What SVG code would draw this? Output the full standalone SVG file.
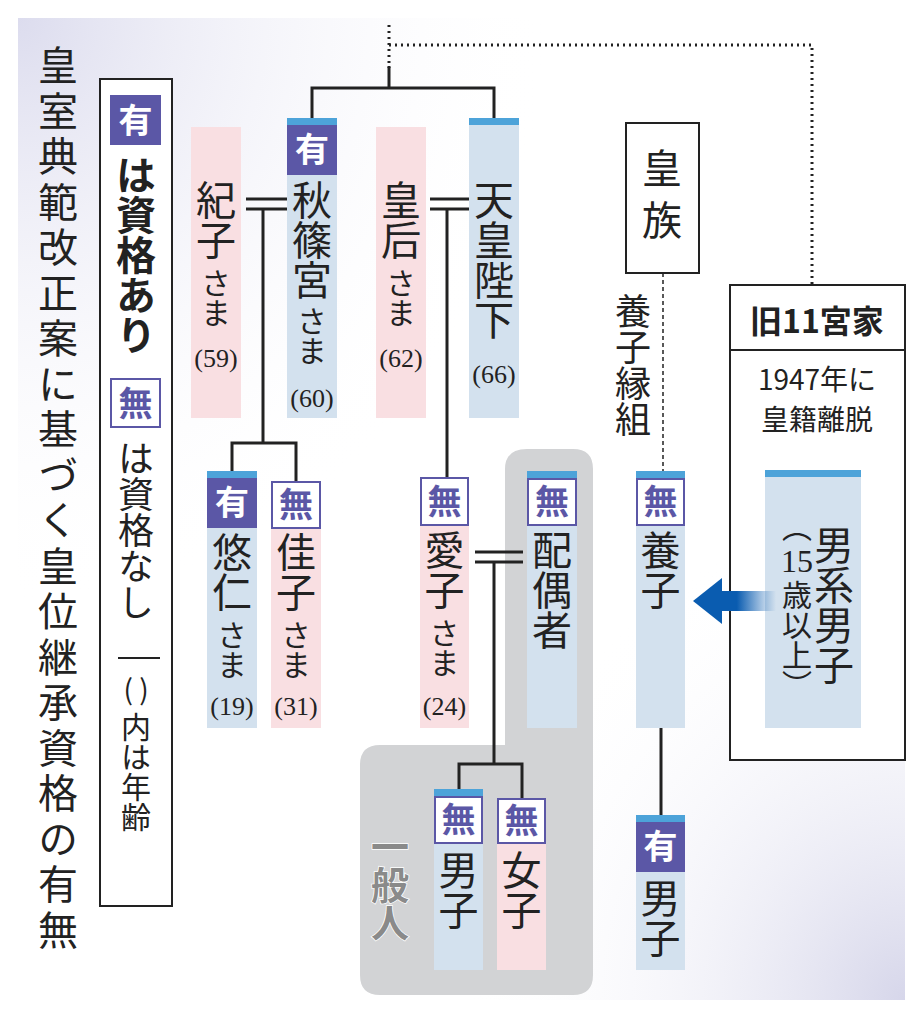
<svg xmlns="http://www.w3.org/2000/svg" width="924" height="1016" viewBox="0 0 924 1016">
<defs>
<radialGradient id="bg1" cx="0" cy="0" r="0.6"><stop offset="0" stop-color="#dcdcee"/><stop offset="1" stop-color="#fff" stop-opacity="0"/></radialGradient>
<radialGradient id="bg2" cx="1" cy="1" r="0.5"><stop offset="0" stop-color="#d6d6ea"/><stop offset="1" stop-color="#fff" stop-opacity="0"/></radialGradient>
<linearGradient id="arr" x1="0" x2="1"><stop offset="0" stop-color="#0a5cb0"/><stop offset="0.3" stop-color="#0a5cb0"/><stop offset="1" stop-color="#0a5cb0" stop-opacity="0"/></linearGradient>
<style>
.t{font-family:"Noto Sans CJK JP",sans-serif;fill:#222;writing-mode:vertical-rl}
.n{font-family:"Liberation Serif",serif;fill:#222;font-size:26px;text-anchor:middle}
.pk{fill:#f9dfe2}.bl{fill:#d3e1ee}.st{fill:#4da3d9}
.yu{fill:#5b57a6}.mu{fill:#fff;stroke:#5b57a6;stroke-width:2}
.by{font-family:"Noto Sans CJK JP",sans-serif;font-weight:bold;font-size:34px;fill:#fff;text-anchor:middle}
.bm{font-family:"Noto Sans CJK JP",sans-serif;font-weight:bold;font-size:34px;fill:#5b57a6;text-anchor:middle}
.c{stroke:#222;stroke-width:3;fill:none}
</style>
</defs>
<rect width="924" height="1016" fill="#fff"/>
<rect x="18" y="18" width="887" height="982" fill="url(#bg1)"/>
<rect x="18" y="18" width="887" height="982" fill="url(#bg2)"/>
<text class="t" x="58" y="45" style="font-size:40px;letter-spacing:5.5px">皇室典範改正案に基づく皇位継承資格の有無</text>
<g id="legend">
<rect x="100" y="79" width="72" height="827" fill="#fff" stroke="#222" stroke-width="2"/>
<rect x="110" y="95" width="51" height="50" class="yu"/><text class="by" x="135.5" y="133">有</text>
<text class="t" x="136" y="155" style="font-size:40px;font-weight:bold">は資格あり</text>
<rect x="111" y="379" width="49" height="48" class="mu"/><text class="bm" x="135.5" y="416">無</text>
<text class="t" x="136" y="440" style="font-size:36px">は資格なし</text>
<line x1="118" y1="658" x2="160" y2="658" stroke="#222" stroke-width="2"/>
<text x="136" y="700" text-anchor="middle" style="font-family:'Noto Sans CJK JP',sans-serif;font-size:28px;fill:#222">(  )</text>
<text class="t" x="136" y="712" style="font-size:30px">内は年齢</text>
</g>
<path d="M527 449H573Q593 449 593 469V975Q593 995 573 995H380Q360 995 360 975V765Q360 745 380 745H505V469Q505 449 527 449Z" fill="#d2d3d5"/>
<text class="t" x="390" y="828" style="font-size:38px;font-weight:bold;fill:#8a8a8a;stroke:#fff;stroke-width:1.5;paint-order:stroke">一般人</text>
<g id="kyu11"><rect x="730" y="285" width="175" height="475" fill="#fff" stroke="#222" stroke-width="2"/><line x1="730" y1="350" x2="905" y2="350" stroke="#222" stroke-width="2"/>
<text x="817" y="333" text-anchor="middle" style="font-family:'Noto Sans CJK JP',sans-serif;font-size:32px;font-weight:bold;fill:#222">旧11宮家</text>
<text x="817" y="390" text-anchor="middle" style="font-family:'Noto Sans CJK JP',sans-serif;font-size:28px;fill:#222">1947年に</text>
<text x="817" y="430" text-anchor="middle" style="font-family:'Noto Sans CJK JP',sans-serif;font-size:28px;fill:#222">皇籍離脱</text>
<rect x="765" y="470" width="96" height="258" class="bl"/><rect x="765" y="470" width="96" height="7" class="st"/>
<text class="t" x="834" y="525" style="font-size:40px">男系男子</text>
<text class="t" x="797" y="512" style="font-size:30px">（</text>
<text x="797" y="572" text-anchor="middle" style="font-family:'Liberation Serif',serif;font-size:32px;fill:#222">15</text>
<text class="t" x="797" y="580" style="font-size:30px">歳以上）</text></g>
<g id="connectors">
<path d="M389 25V68M389 45H812V285" stroke="#222" stroke-width="3" stroke-dasharray="2 4" fill="none"/>
<path class="c" d="M389 66V88M312 118V88H494V118"/>
<path class="c" d="M246 199H287M246 209H287M263 209V443M232 471V443H296V481"/>
<path class="c" d="M430 199H469M430 209H469M447 209V477"/>
<path class="c" d="M475 552H523M475 562H523M494 562V764M459 789V764H522V799"/>
<path d="M663 273V471" stroke="#222" stroke-width="1.5" stroke-dasharray="4 3"/>
<path class="c" d="M661 728V815"/>
<rect x="720" y="591" width="56" height="20" fill="url(#arr)"/>
<path d="M693 601L722 578V624Z" fill="#0a5cb0"/>
</g>
<g id="noriko"><rect x="191" y="127" width="50" height="291" class="pk"/><text class="t" x="216" y="180" style="font-size:40px">紀子</text><text class="t" x="216" y="268" style="font-size:30px">さま</text><text class="n" x="216" y="367">(59)</text></g>
<g id="akishino"><rect x="287" y="118" width="50" height="300" class="bl"/><rect x="287" y="118" width="50" height="7" class="st"/><rect x="287" y="125" width="50" height="50" class="yu"/><text class="by" x="312" y="162">有</text><text class="t" x="312" y="180" style="font-size:40px">秋篠宮</text><text class="t" x="312" y="306" style="font-size:30px">さま</text><text class="n" x="312" y="407">(60)</text></g>
<g id="kogo"><rect x="376" y="127" width="50" height="291" class="pk"/><text class="t" x="401" y="180" style="font-size:40px">皇后</text><text class="t" x="401" y="268" style="font-size:30px">さま</text><text class="n" x="401" y="367">(62)</text></g>
<g id="tenno"><rect x="469" y="118" width="50" height="300" class="bl"/><rect x="469" y="118" width="50" height="7" class="st"/><text class="t" x="494" y="180" style="font-size:40px">天皇陛下</text><text class="n" x="494" y="383">(66)</text></g>
<g id="hisahito"><rect x="207" y="471" width="50" height="257" class="bl"/><rect x="207" y="471" width="50" height="7" class="st"/><rect x="207" y="478" width="50" height="50" class="yu"/><text class="by" x="232" y="515">有</text><text class="t" x="232" y="532" style="font-size:40px">悠仁</text><text class="t" x="232" y="620" style="font-size:30px">さま</text><text class="n" x="232" y="715">(19)</text></g>
<g id="kako"><rect x="271" y="481" width="50" height="247" class="pk"/><rect x="272" y="482" width="48" height="46" class="mu"/><text class="bm" x="296" y="517">無</text><text class="t" x="296" y="532" style="font-size:40px">佳子</text><text class="t" x="296" y="620" style="font-size:30px">さま</text><text class="n" x="296" y="715">(31)</text></g>
<g id="aiko"><rect x="420" y="477" width="49" height="251" class="pk"/><rect x="421" y="478" width="47" height="47" class="mu"/><text class="bm" x="444.5" y="514">無</text><text class="t" x="444.5" y="530" style="font-size:40px">愛子</text><text class="t" x="444.5" y="618" style="font-size:30px">さま</text><text class="n" x="444.5" y="715">(24)</text></g>
<g id="haigusha"><rect x="527" y="471" width="50" height="257" class="bl"/><rect x="527" y="471" width="50" height="7" class="st"/><rect x="528" y="479" width="48" height="46" class="mu"/><text class="bm" x="552" y="514">無</text><text class="t" x="552" y="530" style="font-size:40px">配偶者</text></g>
<g id="danshi1"><rect x="434" y="789" width="49" height="181" class="bl"/><rect x="434" y="789" width="49" height="7" class="st"/><rect x="435" y="797" width="47" height="46" class="mu"/><text class="bm" x="458.5" y="832">無</text><text class="t" x="458.5" y="850" style="font-size:40px">男子</text></g>
<g id="joshi"><rect x="497" y="799" width="49" height="171" class="pk"/><rect x="498" y="799" width="47" height="44" class="mu"/><text class="bm" x="521.5" y="833">無</text><text class="t" x="521.5" y="850" style="font-size:40px">女子</text></g>
<g id="kozoku"><rect x="626" y="123" width="73" height="150" fill="#fff" stroke="#222" stroke-width="2"/><text class="t" x="662" y="148" style="font-size:40px;letter-spacing:12px">皇族</text></g>
<text class="t" x="633" y="293" style="font-size:36px">養子縁組</text>
<g id="yoshi"><rect x="636" y="471" width="49" height="257" class="bl"/><rect x="636" y="471" width="49" height="7" class="st"/><rect x="637" y="479" width="47" height="46" class="mu"/><text class="bm" x="660.5" y="514">無</text><text class="t" x="660.5" y="530" style="font-size:40px">養子</text></g>
<g id="danshi2"><rect x="636" y="815" width="49" height="155" class="bl"/><rect x="636" y="815" width="49" height="7" class="st"/><rect x="636" y="822" width="49" height="50" class="yu"/><text class="by" x="660.5" y="859">有</text><text class="t" x="660.5" y="878" style="font-size:40px">男子</text></g>
</svg>
